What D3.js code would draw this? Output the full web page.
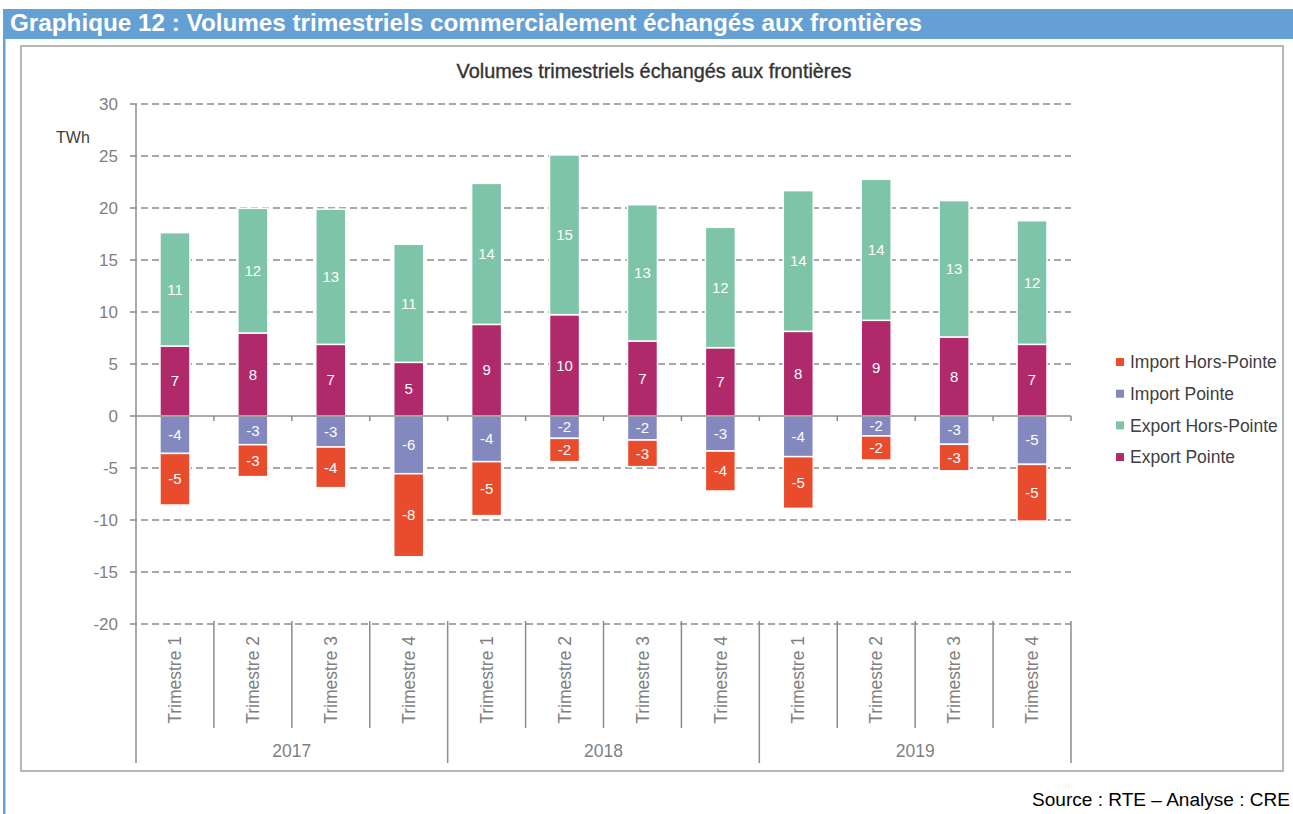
<!DOCTYPE html>
<html><head><meta charset="utf-8">
<script src="https://cdn.jsdelivr.net/npm/d3@7"></script>
<style>body{margin:0;background:#fff}svg{display:block}</style>
</head><body><svg id="c" width="1293" height="814"></svg>
<script>
const quarters = ["Trimestre 1","Trimestre 2","Trimestre 3","Trimestre 4","Trimestre 1","Trimestre 2","Trimestre 3","Trimestre 4","Trimestre 1","Trimestre 2","Trimestre 3","Trimestre 4"];
const years = ["2017","2018","2019"];
const exportPointe     = [6.73, 7.98, 6.89, 5.16, 8.81, 9.74, 7.21, 6.57, 8.14, 9.20, 7.60, 6.89];
const exportHorsPointe = [10.9, 11.99, 13.0, 11.35, 13.56, 15.36, 13.11, 11.57, 13.53, 13.56, 13.11, 11.89];
const importPointe     = [-3.60, -2.76, -2.98, -5.55, -4.39, -2.15, -2.31, -3.37, -3.91, -1.92, -2.72, -4.65];
const importHorsPointe = [-4.96, -3.07, -3.91, -7.98, -5.19, -2.24, -2.56, -3.84, -4.97, -2.31, -2.55, -5.45];
const seriesNames = ["Export Pointe","Export Hors-Pointe","Import Pointe","Import Hors-Pointe"];
const seriesColors = ["#b0296a","#7dc4a8","#8389be","#e84c2c"];
const legendOrder = ["Import Hors-Pointe","Import Pointe","Export Hors-Pointe","Export Pointe"];
const yTicks = [30,25,20,15,10,5,0,-5,-10,-15,-20];

const svg = d3.select("#c");
const FONT = "'Liberation Sans', Arial, sans-serif";

// header band
svg.append("rect").attr("x",3).attr("y",9).attr("width",1290).attr("height",30).attr("fill","#64a0d4");
svg.append("rect").attr("x",3).attr("y",39).attr("width",2.5).attr("height",775).attr("fill","#64a0d4");
function fit(t, w){ const l=t.node().getComputedTextLength(); const fs=parseFloat(t.attr("font-size")); t.attr("font-size", fs*w/l); }
const ht = svg.append("text").attr("x",10).attr("y",31).attr("fill","#fff").attr("font-family",FONT)
  .attr("font-weight","bold").attr("font-size",20).text("Graphique 12 : Volumes trimestriels commercialement échangés aux frontières");
fit(ht, 912);

// frame
svg.append("rect").attr("x",21).attr("y",46).attr("width",1262).attr("height",725)
  .attr("fill","none").attr("stroke","#a0a0a0").attr("stroke-width",1.5);

// chart title
const tt = svg.append("text").attr("x",654).attr("y",78).attr("text-anchor","middle").attr("fill","#333")
  .attr("font-family",FONT).attr("font-size",17).attr("stroke","#333").attr("stroke-width",0.35)
  .text("Volumes trimestriels échangés aux frontières");
fit(tt, 395);

const y = d3.scaleLinear().domain([-20,30]).range([624,104]);
const x = d3.scaleBand().domain(d3.range(quarters.length)).range([136,1071]).paddingInner(0.615).paddingOuter(0.3075);
const step = x.step();
const xl = 136, xr = 1071;

// gridlines
svg.append("g").selectAll("line").data(yTicks.filter(d=>d!==0)).join("line")
  .attr("x1",130).attr("x2",xr).attr("y1",d=>y(d)).attr("y2",d=>y(d))
  .attr("stroke","#8c8c8c").attr("stroke-width",1.4).attr("stroke-dasharray","7,4");

// y tick labels
svg.append("g").selectAll("text").data(yTicks).join("text")
  .attr("x",118).attr("y",d=>y(d)).attr("dy","0.35em").attr("text-anchor","end")
  .attr("fill","#7f7f7f").attr("font-family",FONT).attr("font-size",17).text(d=>d);
svg.append("text").attr("x",56).attr("y",143).attr("fill","#404040").attr("font-family",FONT)
  .attr("font-size",16).text("TWh");

// stacked bars
const rows = quarters.map((q,i)=>({i, "Export Pointe":exportPointe[i], "Export Hors-Pointe":exportHorsPointe[i],
  "Import Pointe":importPointe[i], "Import Hors-Pointe":importHorsPointe[i]}));
const stacked = d3.stack().keys(seriesNames).offset(d3.stackOffsetDiverging)(rows);
const color = d3.scaleOrdinal().domain(seriesNames).range(seriesColors);
const fmt = v => (v<0 ? -Math.round(-v) : Math.round(v));
stacked.forEach(s=>{
  const g = svg.append("g");
  g.selectAll("rect").data(s).join("rect")
    .attr("x",d=>x(d.data.i)).attr("width",x.bandwidth())
    .attr("y",d=>y(Math.max(d[0],d[1]))).attr("height",d=>Math.abs(y(d[0])-y(d[1])))
    .attr("fill",color(s.key)).attr("stroke","#fff").attr("stroke-width",1.5);
  g.selectAll("text").data(s).join("text")
    .attr("x",d=>x(d.data.i)+x.bandwidth()/2).attr("y",d=>y((d[0]+d[1])/2)).attr("dy","0.35em")
    .attr("text-anchor","middle").attr("fill","#fff").attr("font-family",FONT).attr("font-size",15)
    .text(d=>fmt(d.data[s.key]));
});

// axes lines
svg.append("line").attr("x1",130).attr("x2",xr).attr("y1",y(0)).attr("y2",y(0)).attr("stroke","#8c8c8c").attr("stroke-width",1.5);
svg.append("line").attr("x1",xl).attr("x2",xl).attr("y1",y(30)).attr("y2",763).attr("stroke","#8c8c8c").attr("stroke-width",1.5);
const bounds = d3.range(quarters.length+1).map(k=> xl + k*step);
svg.append("g").selectAll("line").data(bounds.slice(1)).join("line")
  .attr("x1",d=>d).attr("x2",d=>d).attr("y1",y(0)).attr("y2",y(0)+5).attr("stroke","#8c8c8c").attr("stroke-width",1.5);
svg.append("g").selectAll("line").data(bounds.slice(1)).join("line")
  .attr("x1",d=>d).attr("x2",d=>d).attr("y1",y(-20)-3).attr("y2",(d,k)=>((k+1)%4===0?763:728))
  .attr("stroke","#8c8c8c").attr("stroke-width",1.5);

// category labels
svg.append("g").selectAll("text").data(quarters).join("text")
  .attr("transform",(d,i)=>`translate(${x(i)+x.bandwidth()/2},636) rotate(-90)`)
  .attr("dy","0.35em").attr("text-anchor","end").attr("fill","#7f7f7f").attr("font-family",FONT)
  .attr("font-size",17.5).text(d=>d);
svg.append("g").selectAll("text").data(years).join("text")
  .attr("x",(d,j)=> xl + (j*4+2)*step).attr("y",751).attr("dy","0.35em").attr("text-anchor","middle")
  .attr("fill","#7f7f7f").attr("font-family",FONT).attr("font-size",17.5).text(d=>d);

// legend
const lg = svg.append("g").selectAll("g").data(legendOrder).join("g")
  .attr("transform",(d,i)=>`translate(1116,${362+i*31.7})`);
lg.append("rect").attr("x",0).attr("y",-4).attr("width",8).attr("height",8).attr("fill",d=>color(d));
lg.append("text").attr("x",14).attr("dy","0.35em").attr("fill","#404040").attr("font-family",FONT)
  .attr("font-size",17.5).text(d=>d);

// source
const st = svg.append("text").attr("x",1290).attr("y",806).attr("text-anchor","end").attr("fill","#000")
  .attr("font-family",FONT).attr("font-size",17).text("Source : RTE – Analyse : CRE");
fit(st, 258);
</script></body></html>
